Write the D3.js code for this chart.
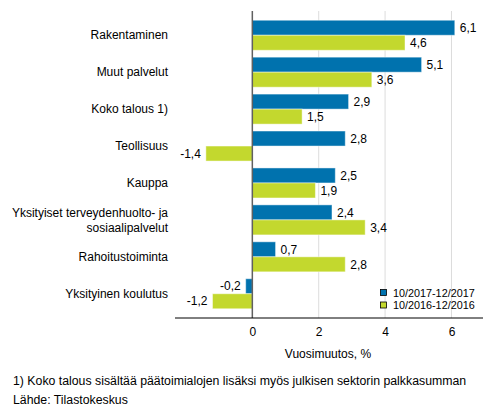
<!DOCTYPE html>
<html>
<head>
<meta charset="utf-8">
<style>
body { margin: 0; background: #fff; }
svg { display: block; font-family: "Liberation Sans", Arial, sans-serif; }
</style>
<script src="https://d3js.org/d3.v7.min.js"></script>
</head>
<body>
<svg width="493" height="416"></svg>
<script>

var categories = ["Rakentaminen", "Muut palvelut", "Koko talous 1)", "Teollisuus", "Kauppa",
                  "Yksityiset terveydenhuolto- ja|sosiaalipalvelut", "Rahoitustoiminta", "Yksityinen koulutus"];
var series = ["10/2017-12/2017", "10/2016-12/2016"];
var values2017 = [6.1, 5.1, 2.9, 2.8, 2.5, 2.4, 0.7, -0.2];
var values2016 = [4.6, 3.6, 1.5, -1.4, 1.9, 3.4, 2.8, -1.2];
var xTicks = [0, 2, 4, 6];
var colors = ["#0072ae", "#c3d82e"];

var svg = d3.select("svg");
var plotLeft = 175, plotRight = 483, plotTop = 11, plotBottom = 318;

var x = d3.scaleLinear().domain([-2.33, 6.95]).range([plotLeft, plotRight]);
var y = d3.scaleBand().domain(d3.range(categories.length)).range([plotTop, plotBottom])
          .paddingInner(0.187).paddingOuter(0.25);
var ys = d3.scaleBand().domain([0, 1]).range([0, y.bandwidth()]);

var fmt = function(v) { return v.toFixed(1).replace(".", ","); };

// grid lines
svg.append("g").selectAll("line")
   .data(xTicks.filter(function(d) { return d !== 0; }))
   .enter().append("line")
   .attr("x1", function(d) { return x(d); }).attr("x2", function(d) { return x(d); })
   .attr("y1", plotTop).attr("y2", plotBottom)
   .attr("stroke", "#dcdcdc").attr("stroke-width", 1);

// bars
var data = [];
categories.forEach(function(c, i) {
  data.push({ i: i, s: 0, v: values2017[i] });
  data.push({ i: i, s: 1, v: values2016[i] });
});

svg.append("g").selectAll("rect")
   .data(data).enter().append("rect")
   .attr("x", function(d) { return x(Math.min(0, d.v)); })
   .attr("y", function(d) { return y(d.i) + ys(d.s); })
   .attr("width", function(d) { return Math.abs(x(d.v) - x(0)); })
   .attr("height", ys.bandwidth())
   .attr("fill", function(d) { return colors[d.s]; })
   .attr("stroke", "#fff").attr("stroke-opacity", 0.45).attr("stroke-width", 1);

// value labels
svg.append("g").selectAll("text")
   .data(data).enter().append("text")
   .attr("x", function(d) { return d.v >= 0 ? x(d.v) + 5 : x(d.v) - 5; })
   .attr("y", function(d) { return y(d.i) + ys(d.s) + ys.bandwidth() / 2; })
   .attr("dy", "0.35em")
   .attr("text-anchor", function(d) { return d.v >= 0 ? "start" : "end"; })
   .attr("font-size", 12).attr("fill", "#000")
   .text(function(d) { return fmt(d.v); });

// zero line
svg.append("line")
   .attr("x1", x(0)).attr("x2", x(0)).attr("y1", plotTop).attr("y2", plotBottom)
   .attr("stroke", "#606060").attr("stroke-width", 1.5);

// x axis
var xAxis = svg.append("g").attr("transform", "translate(0," + plotBottom + ")")
   .call(d3.axisBottom(x).tickValues(xTicks).tickSize(0).tickPadding(9));
xAxis.select(".domain").attr("d", "M" + plotLeft + ",0H" + plotRight).attr("stroke", "#000");
xAxis.selectAll("text").attr("font-size", 12).attr("font-family", "Liberation Sans, Arial, sans-serif").attr("fill", "#000");

svg.append("text").attr("x", 328).attr("y", 358).attr("text-anchor", "middle")
   .attr("font-size", 12).text("Vuosimuutos, %");

// category labels
var catG = svg.append("g");
categories.forEach(function(c, i) {
  var lines = c.split("|");
  var cy = y(i) + y.bandwidth() / 2;
  var t = catG.append("text").attr("x", 168).attr("text-anchor", "end").attr("font-size", 12);
  lines.forEach(function(l, k) {
    t.append("tspan").attr("x", 168)
     .attr("y", cy + (k - (lines.length - 1) / 2) * 15)
     .attr("dy", "0.35em").text(l);
  });
});

// legend
var leg = svg.append("g");
series.forEach(function(s, k) {
  var ly = 293 + k * 12.5;
  leg.append("rect").attr("x", 380.5).attr("y", ly - 3.5).attr("width", 6).attr("height", 6)
     .attr("fill", colors[k]).attr("stroke", "#000").attr("stroke-width", 0.8);
  leg.append("text").attr("x", 393).attr("y", ly).attr("dy", "0.35em")
     .attr("font-size", 10.8).text(s);
});

// footnotes
svg.append("text").attr("x", 13).attr("y", 385).attr("font-size", 12.3)
   .text("1) Koko talous sisältää päätoimialojen lisäksi myös julkisen sektorin palkkasumman");
svg.append("text").attr("x", 13).attr("y", 404).attr("font-size", 12.3)
   .text("Lähde: Tilastokeskus");
</script>
</body>
</html>
